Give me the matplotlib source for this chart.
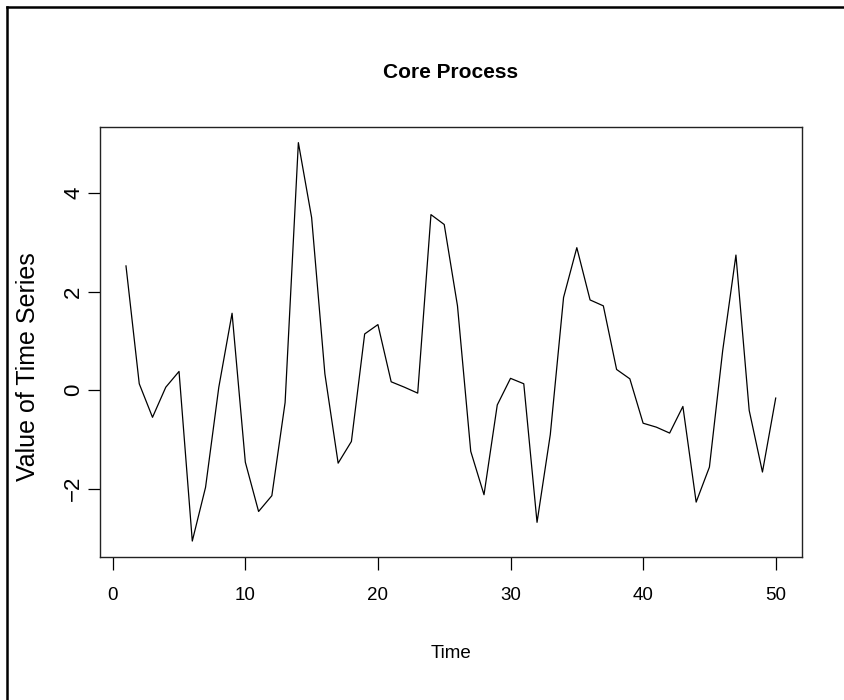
import matplotlib
matplotlib.use('Agg')
import matplotlib.pyplot as plt
from matplotlib.lines import Line2D

# series (t = 1..50)
time = list(range(1, 51))
values = [2.52, 0.13, -0.55, 0.06, 0.38, -3.06, -1.97, 0.06, 1.56, -1.46,
          -2.46, -2.14, -0.25, 5.02, 3.50, 0.33, -1.48, -1.04, 1.14, 1.33,
          0.17, 0.06, -0.06, 3.56, 3.36, 1.71, -1.24, -2.12, -0.30, 0.24,
          0.13, -2.68, -0.90, 1.88, 2.89, 1.83, 1.71, 0.42, 0.23, -0.67,
          -0.75, -0.87, -0.33, -2.27, -1.56, 0.80, 2.74, -0.41, -1.66, -0.16]
xticks = [0, 10, 20, 30, 40, 50]
yticks = [-2, 0, 2, 4]

fam = ['Liberation Sans', 'DejaVu Sans']

W, H = 845, 700
fig = plt.figure(figsize=(W / 100, H / 100), dpi=100)
ax = fig.add_axes([100 / W, 1 - 557 / H, 701.7 / W, (557 - 126.7) / H])

ax.plot(time, values, color='black', lw=0.9)

# R style 4% padding
pad_x = 0.04 * (max(time) - min(time))
pad_y = 0.04 * (max(values) - min(values))
ax.set_xlim(min(time) - pad_x, max(time) + pad_x)
ax.set_ylim(min(values) - pad_y, max(values) + pad_y)

ax.set_xticks(xticks)
ax.set_yticks(yticks)
ax.set_xticklabels([str(v) for v in xticks], family=fam, fontsize=13.5)
ax.set_yticklabels([str(v).replace('-', '\u2212') for v in yticks], family=fam,
                   fontsize=16, rotation=90, va='center')
ax.tick_params(axis='x', direction='out', length=9.5, width=0.9, pad=12)
ax.tick_params(axis='y', direction='out', length=8.4, width=0.9, pad=3)
for s in ax.spines.values():
    s.set_linewidth(1.0)
    s.set_color('#222222')

fig.text(451 / W, 1 - 72 / H, 'Core Process', family=fam, fontsize=15,
         fontweight='bold', ha='center', va='center')
fig.text(451 / W, 1 - 653 / H, 'Time', family=fam, fontsize=13.5,
         ha='center', va='center')
fig.text(28 / W, 1 - 367 / H, 'Value of Time Series', family=fam, fontsize=18,
         rotation=90, ha='center', va='center')

# frame around the device (only top/left visible)
fig.add_artist(Line2D([7 / W, 1], [1 - 7 / H, 1 - 7 / H], color='black', lw=1.8,
                      transform=fig.transFigure))
fig.add_artist(Line2D([7 / W, 7 / W], [0, 1 - 7 / H], color='black', lw=1.8,
                      transform=fig.transFigure))

fig.savefig('out.png', dpi=100)
